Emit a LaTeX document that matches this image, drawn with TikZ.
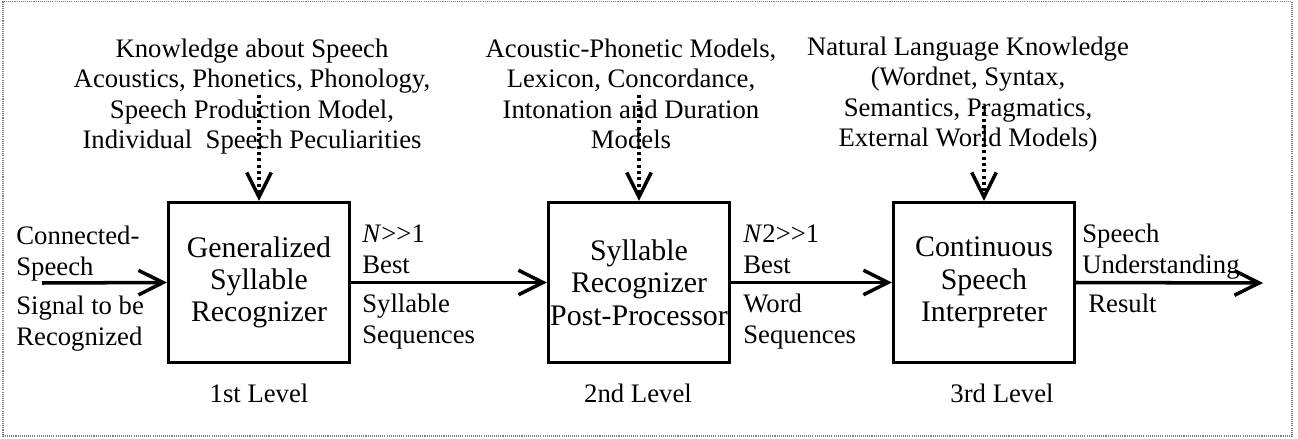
\documentclass[tikz,border=0pt]{standalone}
\usepackage{fontspec}
\setmainfont{Liberation Serif}
\usetikzlibrary{arrows.meta}
\tikzset{
  stage/.style={rectangle,draw,line width=1.8pt,minimum width=3.62cm,minimum height=3.2cm,
    inner sep=0pt,align=center,font=\fontsize{17}{18.4}\selectfont},
  lbl/.style={inner sep=0pt,align=left,font=\fontsize{15.2}{17.4}\selectfont},
  know/.style={inner sep=0pt,align=center,font=\fontsize{15.2}{17.4}\selectfont},
  flow/.style={line width=2pt,-{Straight Barb[length=14pt,width=14pt]}},
  hint/.style={flow,dash pattern=on 1.8pt off 1.8pt},
}
\begin{document}
\begin{tikzpicture}[x=0.02cm,y=-0.02cm]
      \useasboundingbox (0,0) rectangle (1298,439);
      \draw[gray,line width=0.8pt,dash pattern=on 0.6pt off 0.6pt](3,1.5)rectangle(1292,436);
      % the three levels
      \foreach \n/\x/\t in{L1/259/Generalized\\Syllable\\Recognizer, L2/639/Syllable\\Recognizer\\Post-Processor, L3/984/Continuous\\Speech\\Interpreter}{
        \node[stage](\n) at(\x,282.5) {\t};
      }
      \foreach \n/\x/\t in{L1/259/1st, L2/638/2nd, L3/1002/3rd}{
        \node[lbl,anchor=base](\n lev) at(\x,402) {\t~Level};
      }
      % knowledge sources (base = last line)
      \node[know,anchor=base](K1) at(252,149) {Knowledge about Speech\\Acoustics, Phonetics, Phonology,\\Speech Production Model,\\Individual~ Speech Peculiarities};
      \node[know,anchor=base](K2) at(631,149) {Acoustic-Phonetic Models,\\Lexicon, Concordance,\\Intonation and Duration\\Models};
      \node[know,anchor=base](K3) at(968,147) {Natural Language Knowledge\\(Wordnet, Syntax,\\Semantics, Pragmatics,\\External World Models)};
      \coordinate(k1) at(259,95);
      \coordinate(k2) at(639,95);
      \coordinate(k3) at(984,106);
      \foreach \k/\n in{k1/L1, k2/L2, k3/L3}{
        \draw[hint](\k)--(\n.north);
      }
      % signal flow
      \coordinate(in) at(42,283);
      \coordinate(out) at(1263,283);
      \draw[flow](in)--(L1.west);
      \draw[flow](L1.east)--(L2.west);
      \draw[flow](L2.east)--(L3.west);
      \draw[flow](L3.east)--(out);
      \node[lbl,anchor=base west](inA) at(16,275) {Connected-\\Speech};
      \node[lbl,anchor=base west](inB) at(16,345) {Signal to be\\Recognized};
      \node[lbl,anchor=base west](oA1) at(362,273) {\textit{N}>{}>1\\Best};
      \node[lbl,anchor=base west](oB1) at(362,343) {Syllable\\Sequences};
      \node[lbl,anchor=base west](oA2) at(743,273) {\textit{N}2>{}>1\\Best};
      \node[lbl,anchor=base west](oB2) at(743,343) {Word\\Sequences};
      \node[lbl,anchor=base west](oA3) at(1082,273) {Speech\\Understanding};
      \node[lbl,anchor=base west](oB3) at(1088,312) {Result};
    \end{tikzpicture}
\end{document}
